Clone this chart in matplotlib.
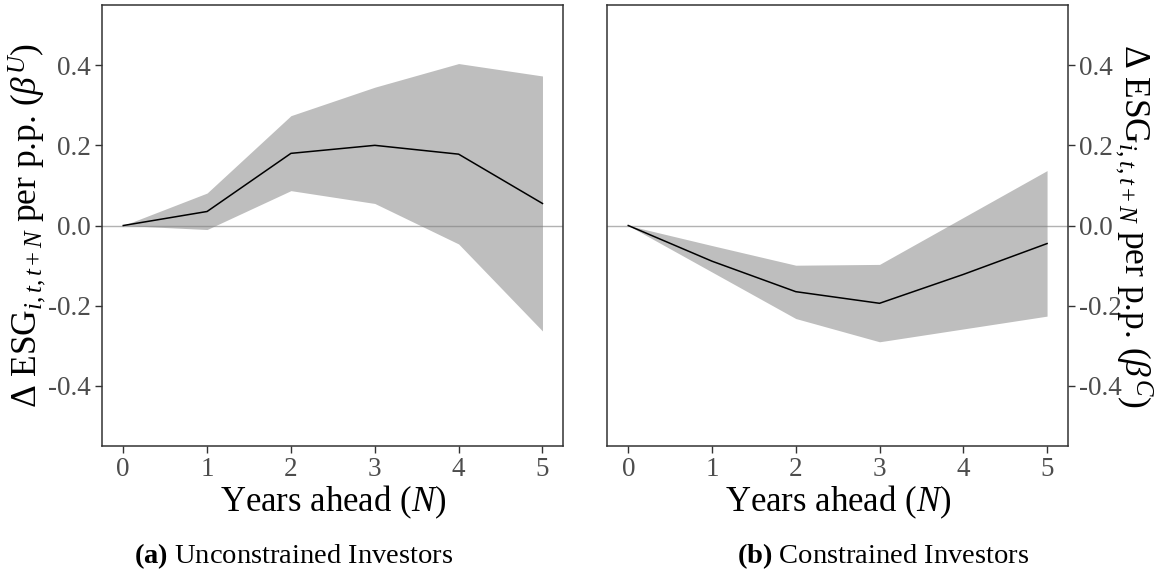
import numpy as np
import matplotlib
matplotlib.use("Agg")
import matplotlib.pyplot as plt

plt.rcParams['font.family'] = ['Liberation Serif', 'DejaVu Serif']
plt.rcParams['mathtext.fontset'] = 'custom'
plt.rcParams['mathtext.rm'] = 'Liberation Serif'
plt.rcParams['mathtext.it'] = 'Liberation Serif:italic'
plt.rcParams['mathtext.bf'] = 'Liberation Serif:bold'
plt.rcParams['axes.unicode_minus'] = False

# years ahead and estimated responses with confidence bands
years = [0, 1, 2, 3, 4, 5]
unc_mean = [0, 0.035, 0.180, 0.200, 0.178, 0.055]
unc_upper = [0, 0.081, 0.274, 0.345, 0.404, 0.373]
unc_lower = [0, -0.010, 0.087, 0.055, -0.046, -0.263]
con_mean = [0, -0.089, -0.165, -0.194, -0.122, -0.045]
con_upper = [0, -0.050, -0.099, -0.097, 0.020, 0.137]
con_lower = [0, -0.116, -0.232, -0.290, -0.258, -0.226]
yticks = [-0.4, -0.2, 0.0, 0.2, 0.4]
ytick_labels = ['-0.4', '-0.2', '0.0', '0.2', '0.4']

fig = plt.figure(figsize=(11.61, 5.77), dpi=100)
ax1 = fig.add_axes([0.0881, 0.2270, 0.3972, 0.7643])
ax2 = fig.add_axes([0.5231, 0.2270, 0.3968, 0.7643])

panels = [
    (ax1, unc_mean, unc_lower, unc_upper, r'$\Delta$ ESG$_{i,t,t+N}$ per p.p. ($\beta^U$)'),
    (ax2, con_mean, con_lower, con_upper, r'$\Delta$ ESG$_{i,t,t+N}$ per p.p. ($\beta^C$)'),
]

for ax, mean, lo, hi, ylab in panels:
    ax.fill_between(years, lo, hi, color='#bebebe', linewidth=0, zorder=1)
    ax.axhline(0, color='#7f7f7f', alpha=0.6, linewidth=1.0, zorder=2)
    ax.plot(years, mean, color='black', linewidth=1.1, zorder=3)
    ax.set_xlim(-0.25, 5.25)
    ax.set_ylim(-0.55, 0.55)
    ax.set_xticks(years)
    ax.set_yticks(yticks)
    ax.set_yticklabels(ytick_labels)
    ax.tick_params(labelsize=19.5, labelcolor='#4d4d4d', color='#333333',
                   length=5, width=1.0, pad=3)
    for sp in ax.spines.values():
        sp.set_color('#333333')
        sp.set_linewidth(1.1)
    ax.set_xlabel(r'Years ahead ($N$)', fontsize=25, labelpad=1)

ax1.set_ylabel(panels[0][4], fontsize=25.5, va='center', ha='center')
ax1.yaxis.set_label_coords(-0.162, 0.5)

ax2.yaxis.tick_right()
ax2.set_ylabel(panels[1][4], fontsize=25.5, rotation=270, va='center', ha='center')
ax2.yaxis.set_label_coords(1.142, 0.5)

fig.text(294 / 1161, 0.0243, r'$\mathbf{(a)}$ Unconstrained Investors',
         fontsize=20.5, ha='center', va='baseline')
fig.text(883 / 1161, 0.0243, r'$\mathbf{(b)}$ Constrained Investors',
         fontsize=20.5, ha='center', va='baseline')

fig.savefig('out.png', dpi=100)
